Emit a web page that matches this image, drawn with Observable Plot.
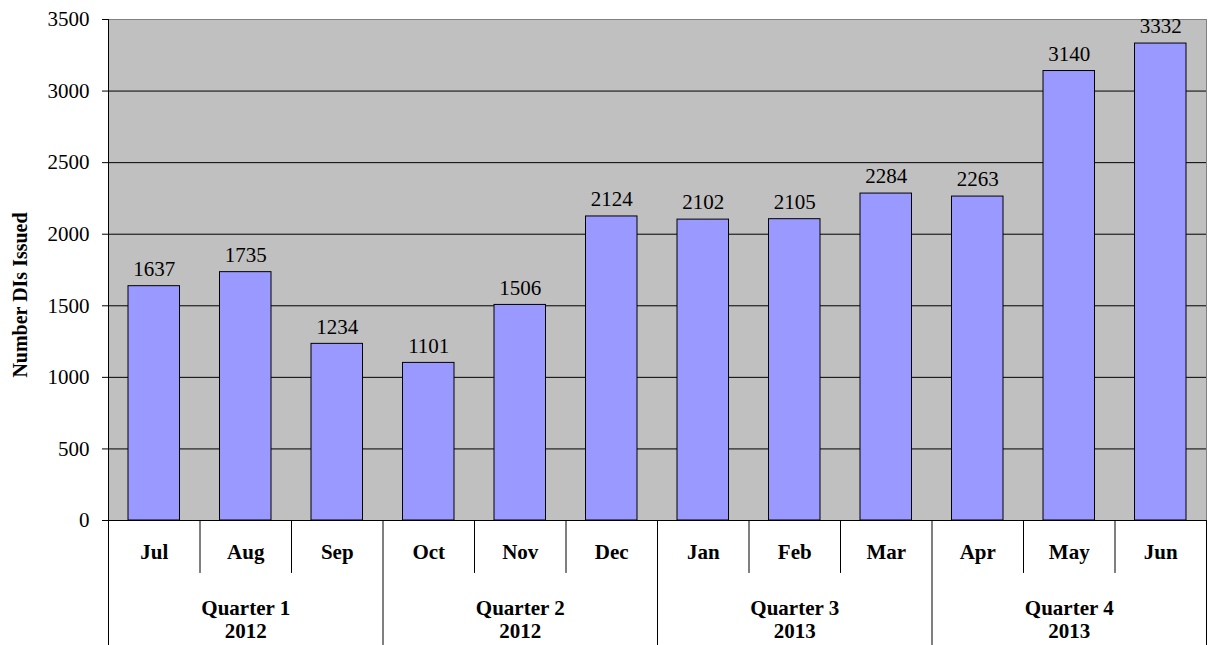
<!DOCTYPE html>
<html>
<head>
<meta charset="utf-8">
<script src="https://cdn.jsdelivr.net/npm/d3@7"></script>
<script src="https://cdn.jsdelivr.net/npm/@observablehq/plot@0.6"></script>
<style>
  html, body { margin: 0; padding: 0; background: #fff; }
  svg { font-family: "Liberation Serif", "Times New Roman", serif; }
</style>
</head>
<body>
<div id="chart"></div>
<script>
const months = ["Jul","Aug","Sep","Oct","Nov","Dec","Jan","Feb","Mar","Apr","May","Jun"];
const values = [1637,1735,1234,1101,1506,2124,2102,2105,2284,2263,3140,3332];
const quarters = ["Quarter 1\n2012","Quarter 2\n2012","Quarter 3\n2013","Quarter 4\n2013"];
const yTicks = [0,500,1000,1500,2000,2500,3000,3500];
const yTitle = "Number DIs Issued";

const data = months.map((m, i) => ({month: m, i, value: values[i]}));
const qdata = quarters.map((q, k) => ({label: q, start: k * 3, mid: k * 3 + 1.5}));
const monthSeps = d3.range(1, months.length).filter(i => i % 3 !== 0);
const quarterSeps = d3.range(0, months.length + 1, 3);

const FONT = "'Liberation Serif', 'Times New Roman', serif";

const chart = Plot.plot({
  width: 1208,
  height: 645,
  marginLeft: 108,
  marginRight: 2,
  marginTop: 19,
  marginBottom: 125,
  style: {fontFamily: FONT, fontSize: "21px", background: "#fff", overflow: "visible"},
  x: {type: "linear", domain: [0, months.length], axis: null},
  y: {domain: [0, 3500], axis: null},
  marks: [
    Plot.frame({fill: "#c0c0c0", stroke: "#808080"}),
    Plot.ruleY(yTicks.filter(t => t > 0 && t < 3500), {stroke: "#000", strokeWidth: 1}),
    Plot.rectY(data, {x1: d => d.i, x2: d => d.i + 1, y: "value", insetLeft: 20, insetRight: 20, fill: "#9999ff", stroke: "#000", strokeWidth: 1}),
    Plot.text(data, {x: d => d.i + 0.5, y: "value", text: d => String(d.value), dy: -17, fill: "#000", fontSize: 21, fontFamily: FONT}),
    // axis baseline and y ticks
    Plot.ruleY([0], {stroke: "#000"}),
    Plot.axisY({ticks: yTicks, tickSize: 6, tickPadding: 13, tickFormat: d => String(d), fontSize: 21, fontFamily: FONT, label: null, color: "#000"}),
    Plot.ruleX([0], {y1: 3500, y2: -873, stroke: "#000"}),
    // category separators
    Plot.ruleX(monthSeps, {y1: 0, y2: -370, stroke: "#000"}),
    Plot.ruleX(quarterSeps, {y1: 0, y2: -873, stroke: "#000"}),
    Plot.text(data, {x: d => d.i + 0.5, y: 0, text: "month", dy: 32, fontWeight: "bold", fontSize: 21, fontFamily: FONT, fill: "#000"}),
    Plot.text(qdata, {x: "mid", y: 0, text: "label", dy: 98.5, fontWeight: "bold", fontSize: 21, fontFamily: FONT, lineHeight: 1.1, fill: "#000"}),
    Plot.text([yTitle], {frameAnchor: "left", textAnchor: "middle", rotate: -90, dx: -88, dy: 25, fontWeight: "bold", fontSize: 20, fontFamily: FONT, fill: "#000"})
  ]
});
document.getElementById("chart").appendChild(chart);
</script>
</body>
</html>
